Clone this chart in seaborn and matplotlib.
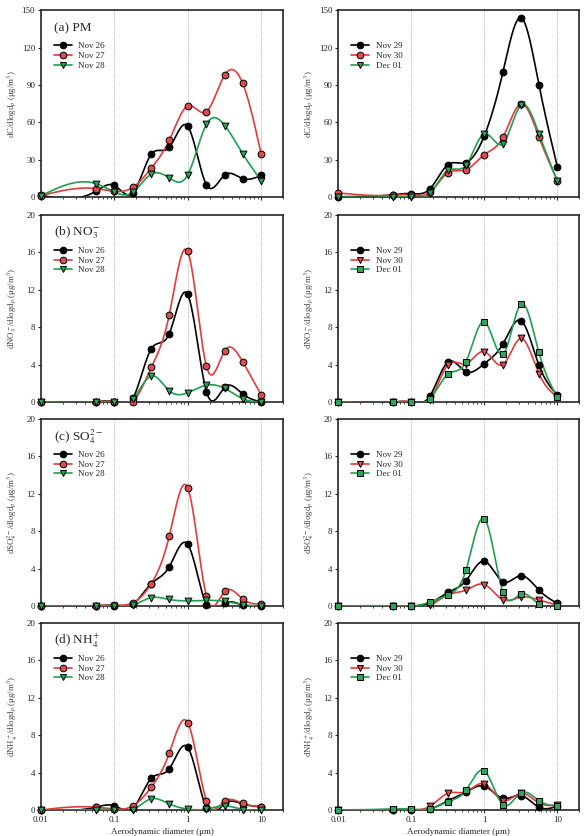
import numpy as np
import matplotlib
matplotlib.use("Agg")
import matplotlib.pyplot as plt
from matplotlib.lines import Line2D
from matplotlib.ticker import FixedLocator, LogLocator, NullFormatter
import seaborn as sns

# ---------------- data ----------------
diam = [0.01, 0.056, 0.1, 0.18, 0.32, 0.56, 1.0, 1.8, 3.2, 5.6, 10.0]

pm_nov26 = [1.6, 4.8, 9.6, 3.5, 34.6, 40.0, 57.0, 10.0, 18.0, 15.0, 17.6]
pm_nov27 = [1.2, 7.0, 4.8, 8.0, 23.5, 45.6, 73.3, 68.7, 98.3, 91.4, 34.6]
pm_nov28 = [1.0, 11.0, 4.3, 4.0, 18.7, 15.5, 18.0, 58.6, 57.5, 35.0, 13.3]
pm_nov29 = [0.5, 2.0, 3.0, 6.7, 26.2, 27.8, 49.2, 100.3, 144.0, 90.4, 24.6]
pm_nov30 = [3.5, 1.6, 2.0, 4.0, 19.8, 22.0, 34.2, 48.0, 75.0, 48.4, 13.4]
pm_dec01 = [0.3, 0.3, 0.3, 3.2, 21.6, 25.7, 51.0, 43.0, 74.0, 51.0, 12.8]

no3_nov26 = [0, 0, 0, 0.4, 5.7, 7.3, 11.5, 1.1, 1.6, 0.86, 0.0]
no3_nov27 = [0, 0, 0, 0.05, 3.7, 9.3, 16.1, 3.8, 5.5, 4.3, 0.75]
no3_nov28 = [0, 0, 0, 0.35, 2.8, 1.2, 1.0, 1.8, 1.45, 0.35, 0.0]
no3_nov29 = [0, 0, 0, 0.64, 4.3, 3.25, 4.1, 6.2, 8.7, 3.95, 0.75]
no3_nov30 = [0, 0, 0, 0.2, 4.0, 4.1, 5.4, 4.0, 6.8, 3.05, 0.55]
no3_dec01 = [0, 0, 0, 0.35, 3.0, 4.3, 8.6, 5.1, 10.5, 5.3, 0.5]

so4_nov26 = [0, 0, 0.05, 0.2, 2.4, 4.2, 6.6, 0.1, 0.3, 0.1, 0.0]
so4_nov27 = [0, 0.05, 0.1, 0.35, 2.4, 7.45, 12.65, 1.07, 1.57, 0.75, 0.18]
so4_nov28 = [0, 0, 0.05, 0.1, 0.9, 0.7, 0.55, 0.6, 0.5, 0.15, 0.0]
so4_nov29 = [0, 0, 0, 0.3, 1.45, 2.7, 4.8, 2.6, 3.25, 1.7, 0.28]
so4_nov30 = [0, 0, 0, 0.1, 1.2, 1.7, 2.3, 0.68, 0.95, 0.65, 0.1]
so4_dec01 = [0, 0, 0, 0.4, 1.2, 3.8, 9.35, 1.53, 1.3, 0.2, 0.0]

nh4_nov26 = [0, 0.3, 0.45, 0.2, 3.4, 4.4, 6.7, 0.2, 0.7, 0.65, 0.35]
nh4_nov27 = [0, 0.3, 0.1, 0.45, 2.45, 6.05, 9.35, 1.0, 0.95, 0.7, 0.35]
nh4_nov28 = [0, 0.05, 0.05, 0.05, 1.2, 0.65, 0.1, 0.1, 0.45, 0.05, 0.0]
nh4_nov29 = [0, 0.05, 0.05, 0.1, 1.0, 1.9, 2.55, 1.25, 1.55, 0.3, 0.4]
nh4_nov30 = [0, 0, 0, 0.4, 1.8, 1.95, 2.8, 1.0, 1.8, 0.75, 0.55]
nh4_dec01 = [0, 0.1, 0.1, 0.1, 0.9, 2.1, 4.2, 0.55, 1.85, 1.0, 0.4]

labels_left = ["Nov 26", "Nov 27", "Nov 28"]
labels_right = ["Nov 29", "Nov 30", "Dec 01"]

titles = ["(a) PM", "(b) NO$_3^{\u2212}$", "(c) SO$_4^{2\u2212}$", "(d) NH$_4^{+}$"]
ylabels = ["dC/dlogd$_p$ (\u03bcg/m$^3$)",
           "dNO$_3^-$/dlogd$_p$ (\u03bcg/m$^3$)",
           "dSO$_4^{2-}$/dlogd$_p$ (\u03bcg/m$^3$)",
           "dNH$_4^+$/dlogd$_p$ (\u03bcg/m$^3$)"]
ymax = [150, 20, 20, 20]
yticks = [[0, 30, 60, 90, 120, 150], [0, 4, 8, 12, 16, 20],
          [0, 4, 8, 12, 16, 20], [0, 4, 8, 12, 16, 20]]
xticks = [0.01, 0.1, 1, 10]
xticklabels = ["0.01", "0.1", "1", "10"]

left_data = [[pm_nov26, pm_nov27, pm_nov28], [no3_nov26, no3_nov27, no3_nov28],
             [so4_nov26, so4_nov27, so4_nov28], [nh4_nov26, nh4_nov27, nh4_nov28]]
right_data = [[pm_nov29, pm_nov30, pm_dec01], [no3_nov29, no3_nov30, no3_dec01],
              [so4_nov29, so4_nov30, so4_dec01], [nh4_nov29, nh4_nov30, nh4_dec01]]

# ---------------- style ----------------
sns.set_style("ticks")
plt.rcParams["font.family"] = ["Liberation Serif", "DejaVu Serif"]
plt.rcParams["mathtext.fontset"] = "stix"

LINE_C = ["#000000", "#e53a3c", "#1f9f4f"]
FACE_C = ["#000000", "#df4a4f", "#2ea35a"]
left_markers = ["o", "o", "v"]
right_markers_a = ["o", "o", "v"]
right_markers = ["o", "v", "s"]


def nat_spline(xl, y, n=400):
    x = np.asarray(xl, float)
    y = np.asarray(y, float)
    m = len(x)
    h = np.diff(x)
    A = np.zeros((m, m))
    b = np.zeros(m)
    A[0, 0] = A[-1, -1] = 1.0
    for i in range(1, m - 1):
        A[i, i - 1] = h[i - 1]
        A[i, i] = 2 * (h[i - 1] + h[i])
        A[i, i + 1] = h[i]
        b[i] = 6 * ((y[i + 1] - y[i]) / h[i] - (y[i] - y[i - 1]) / h[i - 1])
    M = np.linalg.solve(A, b)
    xs = np.linspace(x[0], x[-1], n)
    k = np.clip(np.searchsorted(x, xs, side="right") - 1, 0, m - 2)
    hk = h[k]
    a = (x[k + 1] - xs) / hk
    c = (xs - x[k]) / hk
    ys = (a * y[k] + c * y[k + 1]
          + ((a ** 3 - a) * M[k] + (c ** 3 - c) * M[k + 1]) * hk ** 2 / 6.0)
    return xs, ys


W, H = 586, 836
fig = plt.figure(figsize=(W / 100, H / 100), dpi=100)

bottoms = [0.7640, 0.5191, 0.2751, 0.0311]
hgt = 0.2237
lefts = [0.0695, 0.577]
widths = [0.414, 0.4116]

logx = np.log10(diam)

for r in range(4):
    for col in range(2):
        ax = fig.add_axes([lefts[col], bottoms[r], widths[col], hgt])
        ax.set_xscale("log")
        data = left_data[r] if col == 0 else right_data[r]
        if col == 0:
            markers = left_markers
            labs = labels_left
        else:
            markers = right_markers_a if r == 0 else right_markers
            labs = labels_right
        handles = []
        for j, series in enumerate(data):
            xs, ys = nat_spline(logx, series)
            sns.lineplot(x=10 ** xs, y=ys, ax=ax, color=LINE_C[j], lw=1.2,
                         estimator=None, sort=False, zorder=2 + j)
            sns.scatterplot(x=diam, y=series, ax=ax, marker=markers[j], s=24,
                            color=FACE_C[j], edgecolor="black", linewidth=0.7,
                            clip_on=False, zorder=5 + j)
            handles.append(Line2D([], [], color=LINE_C[j], lw=1.2, marker=markers[j],
                                  markerfacecolor=FACE_C[j], markeredgecolor="black",
                                  markeredgewidth=0.7, markersize=4.8))
        ax.set_xlim(0.01, 20)
        ax.set_ylim(0, ymax[r])
        ax.set_yticks(yticks[r])
        ax.set_yticklabels([str(v) for v in yticks[r]], fontsize=6.5)
        ax.xaxis.set_major_locator(FixedLocator(xticks))
        ax.xaxis.set_minor_locator(LogLocator(base=10, subs=np.arange(2, 10)))
        ax.xaxis.set_minor_formatter(NullFormatter())
        if r == 3:
            ax.set_xticklabels(xticklabels, fontsize=6.5)
            ax.set_xlabel("Aerodynamic diameter (\u03bcm)", fontsize=6.5, labelpad=3)
        else:
            ax.set_xticklabels([])
        ax.grid(axis="x", which="major", ls=(0, (1, 1.5)), color="#9a9a9a", lw=0.6)
        ax.tick_params(axis="both", which="major", direction="out", length=2.5,
                       width=0.8, pad=1.5)
        ax.tick_params(axis="x", which="minor", direction="out", length=1.5, width=0.6)
        for sp in ax.spines.values():
            sp.set_linewidth(1.2)
            sp.set_visible(True)
        ax.set_ylabel(ylabels[r], fontsize=6.3, color="#444444")
        ax.yaxis.set_label_coords(-0.09, 0.5)
        if col == 0:
            ax.text(0.055, 0.905, titles[r], transform=ax.transAxes, fontsize=9.5,
                    ha="left", va="center")
        leg = ax.legend(handles, labs, loc="upper left", bbox_to_anchor=(0.055, 0.83),
                        frameon=False, fontsize=6.5, handlelength=2.0,
                        handletextpad=0.7, labelspacing=0.15, borderpad=0,
                        borderaxespad=0)

fig.savefig("out.png", dpi=100)
